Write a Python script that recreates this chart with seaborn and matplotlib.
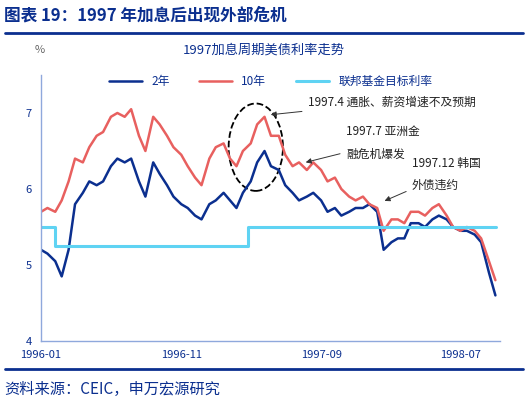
import matplotlib
matplotlib.use("Agg")
import matplotlib.pyplot as plt
import seaborn as sns
import pandas as pd
import numpy as np
from matplotlib.patches import Ellipse

sns.set_theme(style="white")
plt.rcParams['font.family'] = ['Noto Sans CJK SC', 'DejaVu Sans']

dates = pd.date_range('1996-01-01', '1998-09-16', freq='SMS')
y10 = [5.7,5.75,5.7,5.85,6.1,6.4,6.35,6.55,6.7,6.75,6.95,7.0,6.95,7.05,6.7,6.5,6.95,6.85,6.7,6.55,
       6.45,6.3,6.15,6.05,6.4,6.55,6.6,6.4,6.3,6.5,6.6,6.85,6.95,6.7,6.7,6.45,6.3,6.35,6.25,6.35,
       6.25,6.1,6.15,6.0,5.9,5.85,5.9,5.8,5.75,5.45,5.6,5.6,5.55,5.7,5.7,5.65,5.75,5.8,5.65,5.5,
       5.45,5.5,5.45,5.35,5.05,4.8]
y2 = [5.2,5.15,5.05,4.85,5.2,5.8,5.95,6.1,6.05,6.1,6.3,6.4,6.35,6.4,6.1,5.9,6.35,6.2,6.05,5.9,
      5.8,5.75,5.65,5.6,5.8,5.85,5.95,5.85,5.75,5.95,6.1,6.35,6.5,6.3,6.25,6.05,5.95,5.85,5.9,5.95,
      5.85,5.7,5.75,5.65,5.7,5.75,5.75,5.8,5.7,5.2,5.3,5.35,5.35,5.55,5.55,5.5,5.6,5.65,5.6,5.5,
      5.45,5.45,5.4,5.3,4.9,4.6]
fed_dates = pd.to_datetime(['1996-01-01', '1996-02-01', '1997-03-26', '1998-09-16'])
fed = [5.5, 5.25, 5.5, 5.5]
tick_labels = ['1996-01', '1996-11', '1997-09', '1998-07']

NAVY = '#0b2f8f'
RED = '#e8605f'
CYAN = '#5fd3f3'

fig = plt.figure(figsize=(5.28, 4.05), dpi=100)
ax = fig.add_axes([41/528, 1-341/405, (500-41)/528, (341-75)/405])

df = pd.DataFrame({'date': dates, '2年': y2, '10年': y10})
sns.lineplot(data=df, x='date', y='2年', ax=ax, color=NAVY, lw=1.8, label='2年')
sns.lineplot(data=df, x='date', y='10年', ax=ax, color=RED, lw=1.8, label='10年')
ax.step(fed_dates, fed, where='post', color=CYAN, lw=2.2, label='联邦基金目标利率')

ax.set_ylim(4, 7.5)
ax.set_yticks([4, 5, 6, 7])
ax.set_xlim(pd.Timestamp('1996-01-01'), pd.Timestamp('1998-09-25'))
ax.set_xticks(pd.to_datetime([t + '-01' for t in tick_labels]))
ax.set_xticklabels(tick_labels)
ax.tick_params(axis='both', colors=NAVY, labelsize=8, length=3, direction='out')
ax.set_xlabel(''); ax.set_ylabel('')
for s in ['top', 'right']:
    ax.spines[s].set_visible(False)
for s in ['left', 'bottom']:
    ax.spines[s].set_color('#8fa8dc')
    ax.spines[s].set_linewidth(1)

leg = ax.legend(loc='upper center', bbox_to_anchor=(0.5, 1.04), ncol=3, frameon=False,
                fontsize=8.5, handlelength=2.8, columnspacing=2.5)
for t in leg.get_texts():
    t.set_color(NAVY)

ax.add_patch(Ellipse((pd.Timestamp('1997-04-12'), 6.55), width=118, height=1.15,
                     fill=False, ls='--', lw=1.3, ec='black'))

def ann(text, xy, xytext, ha='left'):
    ax.annotate(text, xy=xy, xycoords='figure pixels', xytext=xytext, textcoords='figure pixels',
                fontsize=8.5, ha=ha, va='center', color='#222222', linespacing=1.9,
                arrowprops=dict(arrowstyle='-|>', color='#333333', lw=0.7, mutation_scale=8))

ann('1997.4 通胀、薪资增速不及预期', (268, 405-115), (308, 405-102))
ann('1997.7 亚洲金\n融危机爆发', (303, 405-163), (346, 405-143))
ann('1997.12 韩国\n外债违约', (382, 405-202), (412, 405-174))

fig.text(0.5, 1-50/405, '1997加息周期美债利率走势', ha='center', va='center', fontsize=9.5, color=NAVY)
fig.text(40/528, 1-50/405, '%', ha='center', va='center', fontsize=8, color='#666666')
fig.text(4/528, 1-15/405, '图表 19：1997 年加息后出现外部危机', ha='left', va='center',
         fontsize=12, fontweight='bold', color=NAVY)
fig.text(4/528, 1-389/405, '资料来源：CEIC，申万宏源研究', ha='left', va='center',
         fontsize=11, color=NAVY)
fig.add_artist(plt.Line2D([5/528, 523/528], [1-33/405]*2, color=NAVY, lw=2))
fig.add_artist(plt.Line2D([5/528, 523/528], [1-369/405]*2, color=NAVY, lw=2))

fig.savefig('out.png', dpi=100)
